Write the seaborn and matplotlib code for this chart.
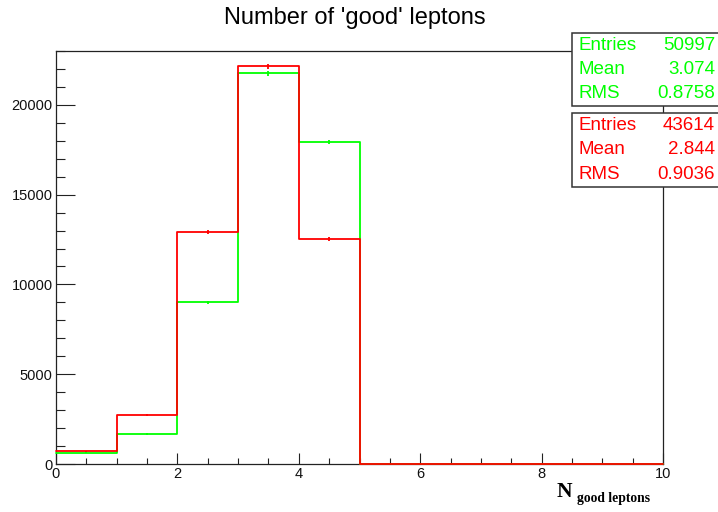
import numpy as np
import pandas as pd
import matplotlib
matplotlib.use("Agg")
import matplotlib.pyplot as plt
from matplotlib.patches import Rectangle
from matplotlib.ticker import MultipleLocator
import seaborn as sns

# Lepton multiplicity per event, bins [n, n+1)
n_leptons = [0, 1, 2, 3, 4]
counts_green = [620, 1670, 9010, 21754, 17929]
counts_red = [720, 2720, 12900, 22144, 12545]
bin_edges = list(range(0, 11))

title = "Number of 'good' leptons"
stats_green = [("Entries", "50997"), ("Mean", "3.074"), ("RMS", "0.8758")]
stats_red = [("Entries", "43614"), ("Mean", "2.844"), ("RMS", "0.9036")]
x_ticks = [0, 2, 4, 6, 8, 10]
y_ticks = [0, 5000, 10000, 15000, 20000]

GREEN = "#00ff00"
RED = "#ff0000"

sns.set_style("white")
plt.rcParams["font.family"] = ["Liberation Sans", "DejaVu Sans"]
plt.rcParams["text.color"] = "black"

W, H = 718, 512
fig = plt.figure(figsize=(W / 100, H / 100), dpi=100)


def fx(px):
    return px / W


def fy(py):
    return 1 - py / H


ax = fig.add_axes([fx(56), fy(464), fx(663) - fx(56), fy(51) - fy(464)])

df = pd.DataFrame({
    "n": n_leptons * 2,
    "count": counts_green + counts_red,
    "sample": ["green"] * len(n_leptons) + ["red"] * len(n_leptons),
})

for name, color in [("green", GREEN), ("red", RED)]:
    sub = df[df["sample"] == name]
    sns.histplot(data=sub, x="n", weights="count", bins=bin_edges,
                 element="step", fill=False, color=color, linewidth=1.3,
                 ax=ax, zorder=3)
    centers = sub["n"].to_numpy() + 0.5
    vals = sub["count"].to_numpy()
    ax.errorbar(centers, vals, yerr=np.sqrt(vals), fmt="none",
                ecolor=color, elinewidth=1.3, capsize=0, zorder=3)

for line in ax.lines:
    line.set_clip_on(False)

ax.set_xlim(0, 10)
ax.set_ylim(0, 23000)
ax.set_xlabel("")
ax.set_ylabel("")
ax.set_xticks(x_ticks)
ax.set_yticks(y_ticks)
ax.xaxis.set_minor_locator(MultipleLocator(0.5))
ax.yaxis.set_minor_locator(MultipleLocator(1000))
ax.tick_params(axis="both", which="both", direction="in", width=0.8,
               color="#222222", labelsize=10.5, pad=2.5, labelcolor="#111111",
               bottom=True, left=True, top=False, right=False)
ax.tick_params(axis="x", which="major", length=8)
ax.tick_params(axis="x", which="minor", length=4)
ax.tick_params(axis="y", which="major", length=13.5)
ax.tick_params(axis="y", which="minor", length=6.8)
for sp in ax.spines.values():
    sp.set_visible(True)
    sp.set_color("#222222")
    sp.set_linewidth(0.9)

fig.text(fx(355), fy(18), title, ha="center", va="center", fontsize=17,
         color="black")

# axis title: N with subscript
fig.text(fx(557), fy(497), "N", ha="left", va="baseline",
         family="Liberation Serif", weight="bold", fontsize=15.5, color="black")
fig.text(fx(577), fy(502), "good leptons", ha="left", va="baseline",
         family="Liberation Serif", weight="bold", fontsize=9.8, color="black")


def stat_box(top, bottom, rows, color):
    fig.patches.append(Rectangle((fx(572), fy(bottom)), fx(720) - fx(572),
                                 fy(top) - fy(bottom), transform=fig.transFigure,
                                 facecolor="white", edgecolor="#333333",
                                 linewidth=1.1, zorder=5))
    step = (bottom - top) / 3
    for i, (k, v) in enumerate(rows):
        yc = top + step * (i + 0.5)
        fig.text(fx(578), fy(yc), k, ha="left", va="center", color=color,
                 fontsize=13.5, zorder=6)
        fig.text(fx(715), fy(yc), v, ha="right", va="center", color=color,
                 fontsize=13.5, zorder=6)


stat_box(33, 106, stats_green, GREEN)
stat_box(113, 187, stats_red, RED)

fig.savefig("out.png", dpi=100, facecolor="white")
